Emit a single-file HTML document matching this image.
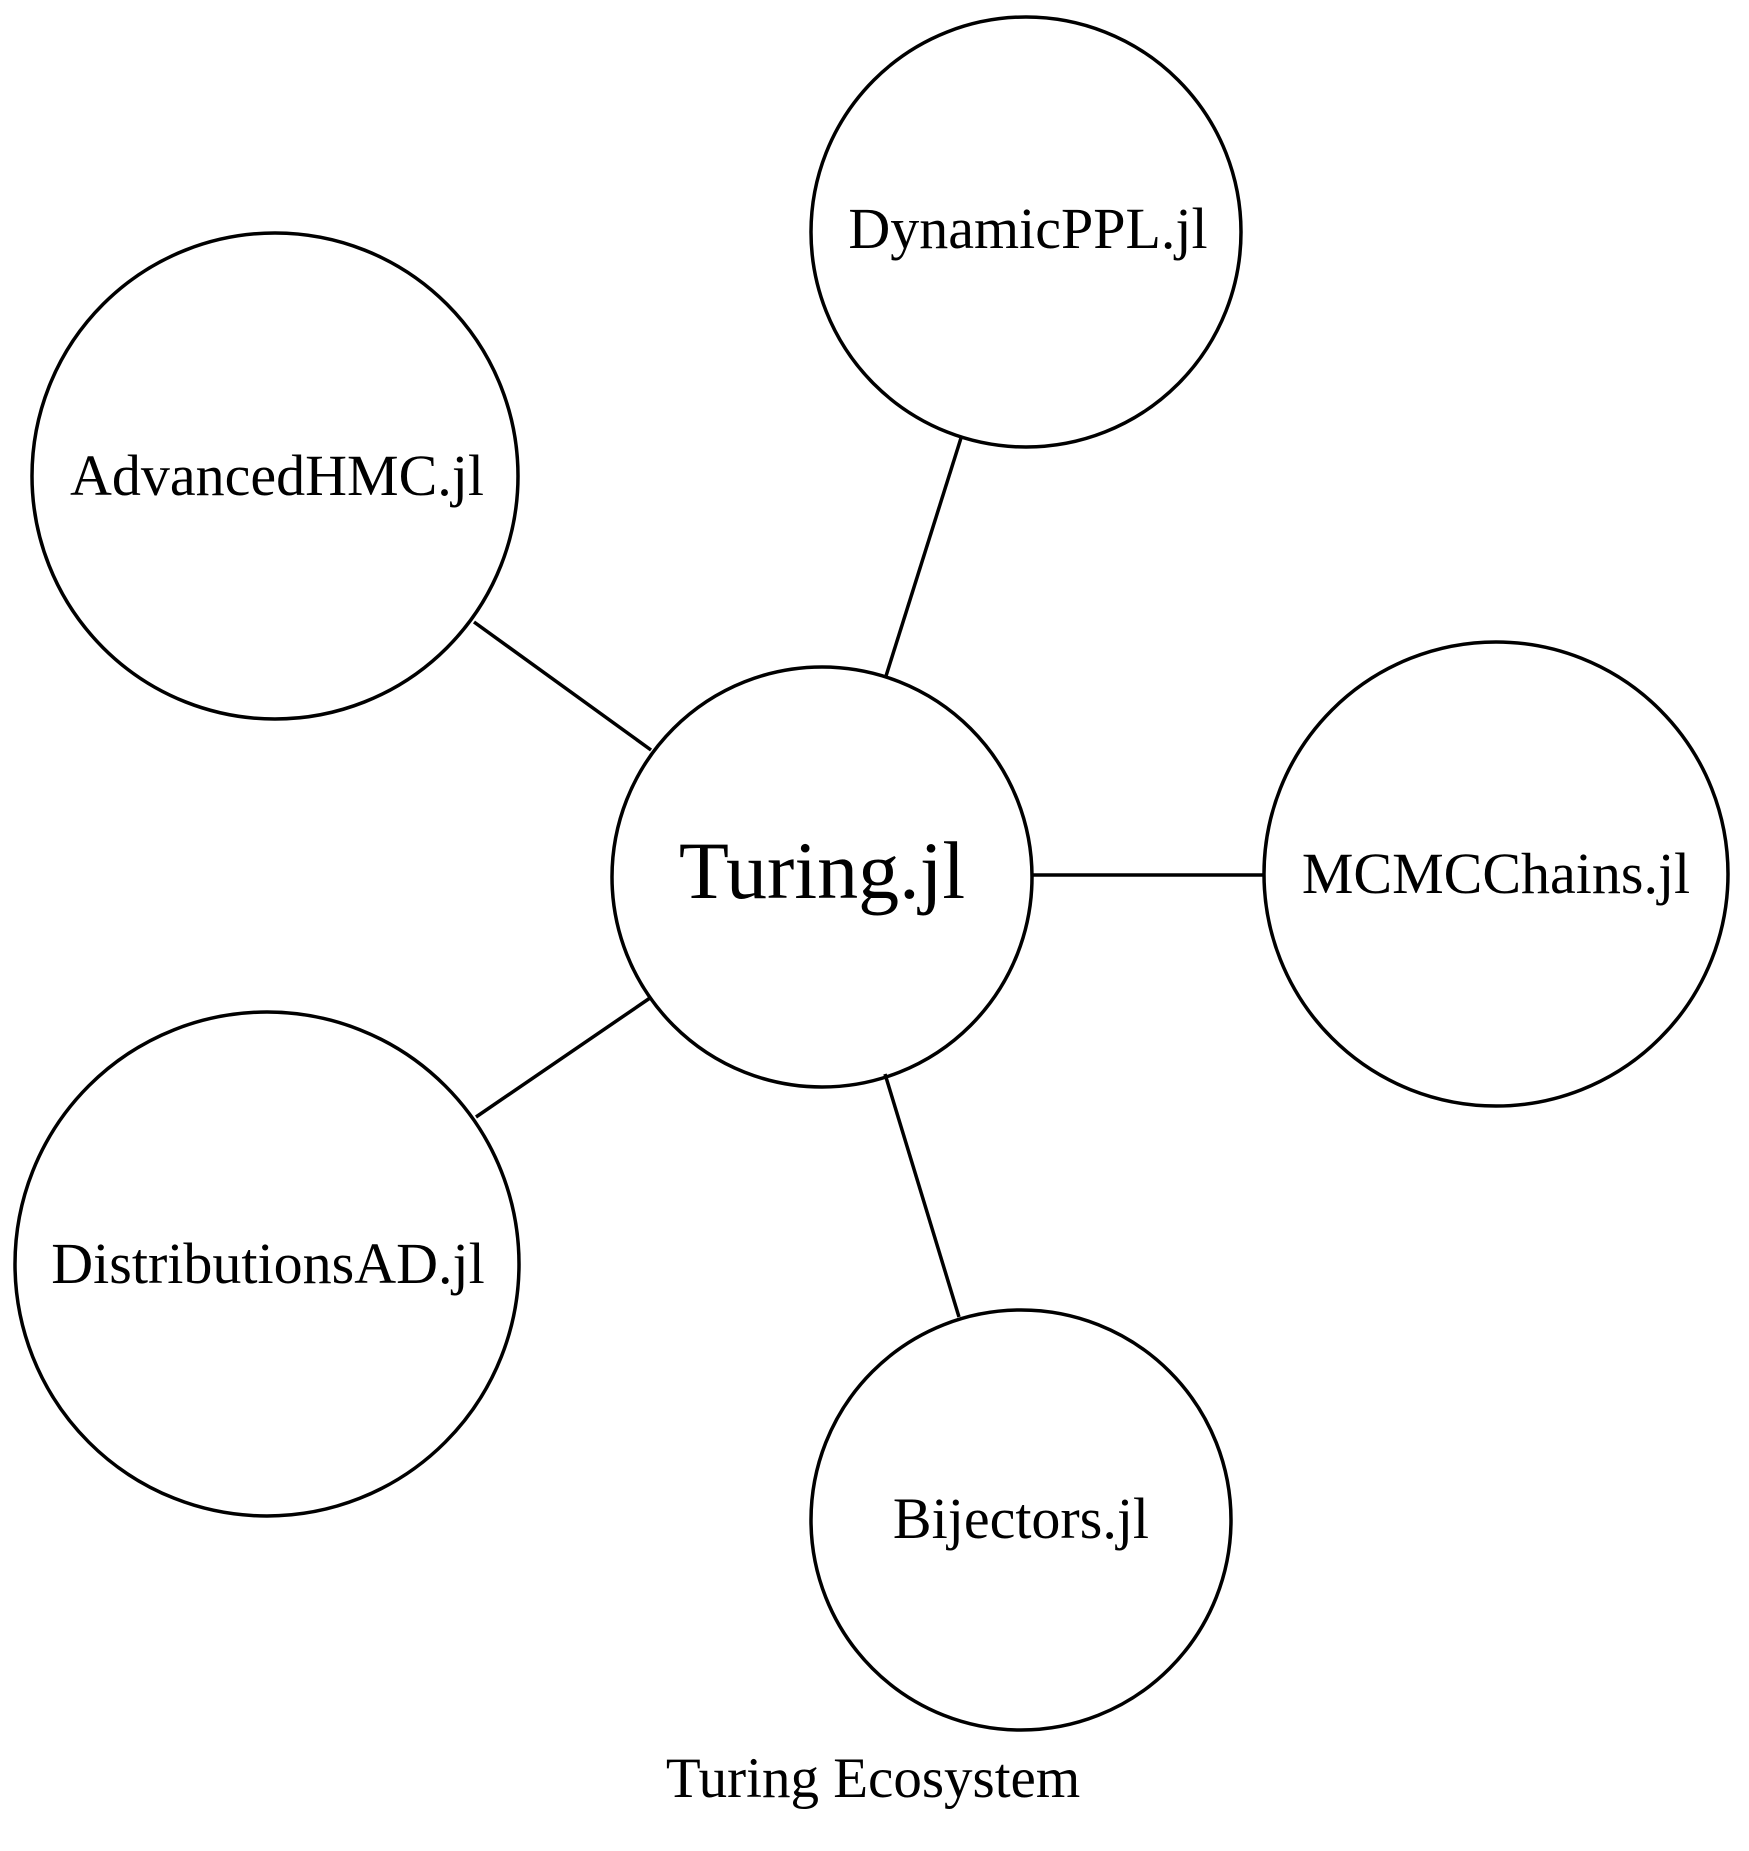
<!DOCTYPE html>
<html><head><style>html,body{margin:0;padding:0;background:#fff}</style></head>
<body>
<svg width="1749" height="1846" viewBox="0 0 1749 1846" xmlns="http://www.w3.org/2000/svg" font-family="'Liberation Serif', serif" fill="none" stroke="#000" stroke-width="3.5">
<line x1="961" y1="438" x2="886" y2="676"/>
<line x1="474" y1="622" x2="651" y2="750"/>
<line x1="1031" y1="875" x2="1263" y2="875"/>
<line x1="650" y1="998" x2="476" y2="1117"/>
<line x1="885" y1="1074" x2="959" y2="1317"/>
<circle cx="822" cy="877" r="210"/>
<circle cx="1026" cy="232" r="215"/>
<circle cx="275" cy="476" r="243"/>
<circle cx="1496" cy="874" r="232"/>
<circle cx="267" cy="1264" r="252"/>
<circle cx="1021" cy="1520" r="210"/>
<g fill="#000" stroke="none" text-anchor="middle">
<text x="822" y="898" font-size="82">Turing.jl</text>
<text x="1028" y="248" font-size="58">DynamicPPL.jl</text>
<text x="277" y="495" font-size="58">AdvancedHMC.jl</text>
<text x="1496" y="893" font-size="58">MCMCChains.jl</text>
<text x="268" y="1283" font-size="58">DistributionsAD.jl</text>
<text x="1021" y="1538" font-size="58">Bijectors.jl</text>
<text x="873" y="1797" font-size="57">Turing Ecosystem</text>
</g>
</svg>
</body></html>
